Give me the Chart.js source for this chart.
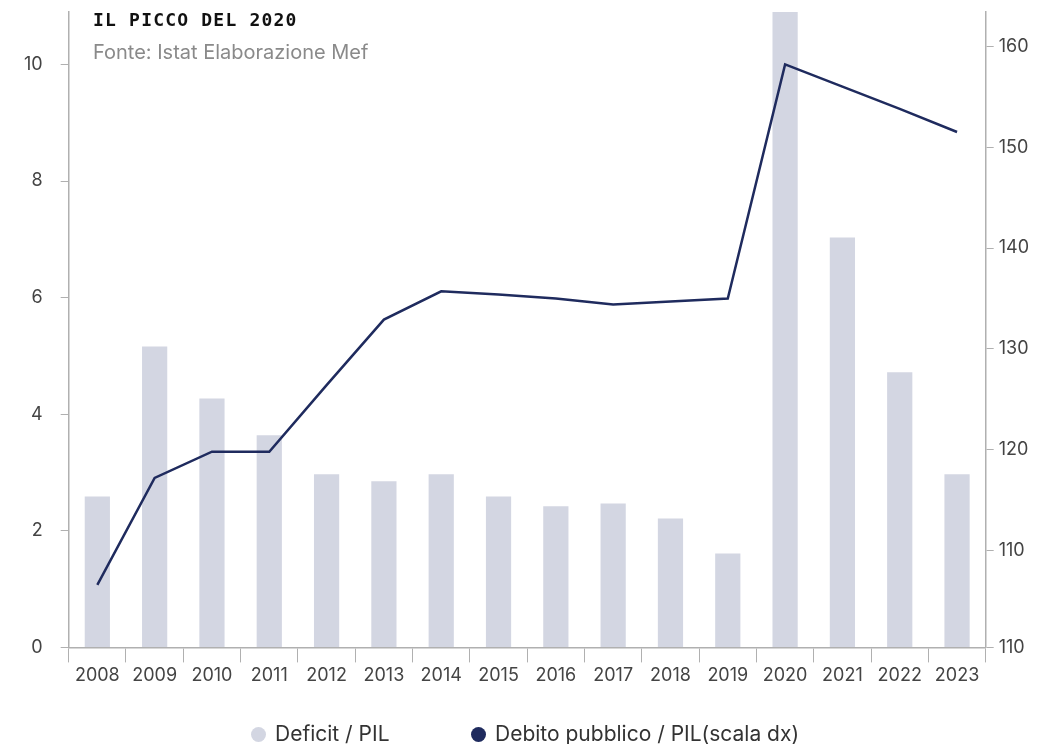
<!DOCTYPE html>
<html>
<head>
<meta charset="utf-8">
<script src="https://cdn.jsdelivr.net/npm/chart.js@4.4.1/dist/chart.umd.min.js"></script>
<style>
  html, body { margin: 0; padding: 0; background: #fff; }
  #wrap { position: relative; width: 1037px; height: 744px; }
  #title { position: absolute; left: 93px; top: 9px; font-family: "DejaVu Sans Mono", monospace; font-weight: bold; font-size: 18px; color: #111; letter-spacing: 1.2px; }
  #sub { position: absolute; left: 93px; top: 40px; font-family: Inter, sans-serif; font-size: 20px; color: #8a8a8a; }
  .leg { position: absolute; top: 721px; font-family: Inter, sans-serif; font-size: 21px; color: #333; line-height: 26px; white-space: nowrap; }
  .dot { display: inline-block; width: 15px; height: 15px; border-radius: 50%; vertical-align: -1px; margin-right: 9px; }
</style>
</head>
<body>
<div id="wrap">
  <canvas id="c" width="1037" height="744"></canvas>
  <div id="title">IL PICCO DEL 2020</div>
  <div id="sub">Fonte: Istat Elaborazione Mef</div>
  <div id="legend"></div>
</div>
<script>
const years = ['2008','2009','2010','2011','2012','2013','2014','2015','2016','2017','2018','2019','2020','2021','2022','2023'];
const deficit = [2.59, 5.16, 4.27, 3.64, 2.97, 2.85, 2.97, 2.59, 2.42, 2.47, 2.21, 1.61, 11.0, 7.03, 4.72, 2.97];
const debito = [106.6, 117.2, 119.8, 119.8, 126.4, 132.9, 135.7, 135.4, 135.0, 134.4, 134.7, 135.0, 158.2, 156.0, 153.8, 151.5];
const leftTicks = [0, 2, 4, 6, 8, 10];
const rightTicks = [100.4, 110, 120, 130, 140, 150, 160];
const rightTickLabels = ['110', '110', '120', '130', '140', '150', '160'];
const seriesNames = ['Deficit / PIL', 'Debito pubblico / PIL(scala dx)'];
const seriesColors = ['#d3d6e2', '#1f2b5e'];

const axisColor = '#b0b0b0';
const textColor = '#444';
const font = { family: 'Inter, sans-serif', size: 18 };

// HTML legend (real text)
const legendLefts = [251, 471];
const legendEl = document.getElementById('legend');
seriesNames.forEach((name, i) => {
  const d = document.createElement('div');
  d.className = 'leg';
  d.style.left = legendLefts[i] + 'px';
  d.innerHTML = '<span class="dot" style="background:' + seriesColors[i] + '"></span>' + name;
  legendEl.appendChild(d);
});

const noPad = (s) => { s.paddingTop = 0; s.paddingBottom = 0; };

new Chart(document.getElementById('c'), {
  data: {
    labels: years,
    datasets: [
      {
        type: 'line',
        label: seriesNames[1],
        data: debito,
        yAxisID: 'y1',
        borderColor: seriesColors[1],
        backgroundColor: seriesColors[1],
        borderWidth: 2.5,
        pointRadius: 0,
        tension: 0,
        order: 0
      },
      {
        type: 'bar',
        label: seriesNames[0],
        data: deficit,
        yAxisID: 'y',
        backgroundColor: seriesColors[0],
        borderWidth: 0,
        categoryPercentage: 1,
        barPercentage: 0.44,
        order: 1
      }
    ]
  },
  options: {
    responsive: false,
    animation: false,
    layout: { padding: { left: 6, right: 3, top: 12, bottom: 56 } },
    plugins: {
      tooltip: { enabled: false },
      legend: { display: false }
    },
    scales: {
      x: {
        offset: true,
        grid: { display: true, drawOnChartArea: false, drawTicks: true, tickLength: 15, color: axisColor, offset: true },
        border: { color: axisColor, width: 1.5 },
        ticks: { color: textColor, font: font, padding: 2, maxRotation: 0 }
      },
      y: {
        position: 'left',
        min: 0,
        max: 10.9,
        afterBuildTicks: (ax) => { ax.ticks = leftTicks.map(v => ({ value: v })); },
        afterFit: noPad,
        grid: { drawOnChartArea: false, drawTicks: true, tickLength: 8, color: axisColor },
        border: { color: axisColor, width: 1.5 },
        ticks: { color: textColor, font: font, padding: 18 }
      },
      y1: {
        position: 'right',
        min: 100.4,
        max: 163.4,
        afterBuildTicks: (ax) => { ax.ticks = rightTicks.map(v => ({ value: v })); },
        afterFit: noPad,
        grid: { drawOnChartArea: false, drawTicks: true, tickLength: 8, color: axisColor },
        border: { color: axisColor, width: 1.5 },
        ticks: {
          color: textColor, font: font, padding: 5,
          callback: function (value, index) { return rightTickLabels[index]; }
        }
      }
    }
  }
});
</script>
</body>
</html>
